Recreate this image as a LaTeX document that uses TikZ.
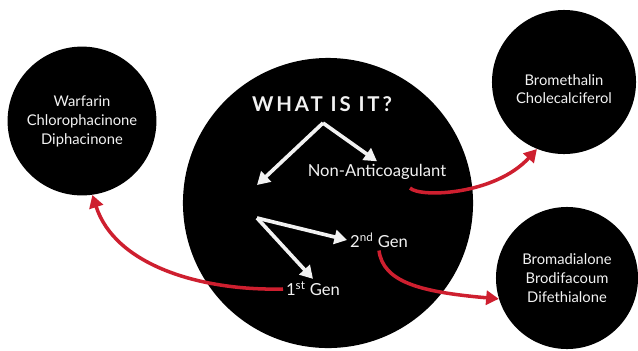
\documentclass[tikz,border=0pt]{standalone}
\usepackage{fontspec}
\setmainfont{Lato}
\newfontfamily\headfont[LetterSpace=14]{Lato}
\usepackage{xcolor}
\definecolor{Ink}{HTML}{000000}
\definecolor{Paper}{HTML}{F2F2F2}
\definecolor{Blood}{HTML}{CE1F2F}
\usepackage{tikz}
\usetikzlibrary{arrows.meta, positioning}
\tikzset{
  blob/.style={
    circle, fill=Ink, minimum size=#1,
    inner sep=0pt
  },
  blob/.default=3.7cm,
  txt/.style={
    text=Paper, align=center, inner sep=2pt,
    font=\fontsize{10.5}{13.5}\selectfont
  },
  wArr/.style={-{Triangle[length=9pt,width=10pt]}, line width=2.6pt, color=Paper},
  rArr/.style={-{Triangle[length=9pt,width=10pt]}, line width=2.5pt, color=Blood},
}

\begin{document}
\begin{tikzpicture}[x=0.025cm, y=-0.025cm]

\useasboundingbox (0,0) rectangle (638,350);

% the four discs
\node[blob=7.25cm] at (328,203) (hub) {};
\node[blob=3.72cm] at (82,121) (warf) {};
\node[blob=3.6cm] at (564,82) (bromet) {};
\node[blob=3.55cm] at (567,278) (brod) {};

% disc contents
\node[txt] at (82,121) (warftxt) {Warfarin\\Chlorophacinone\\Diphacinone};
\node[txt, font=\fontsize{10.5}{12.5}\selectfont] at (564,89) (brometxt) {Bromethalin\\Cholecalciferol};
\node[txt] at (567,278) (brodtxt) {Bromadialone\\Brodifacoum\\Difethialone};

\node[txt, font=\headfont\bfseries\fontsize{14.5}{16}\selectfont] at (322,104) (what) {WHAT IS IT?};
\node[txt, font=\fontsize{11.8}{14}\selectfont] at (377,172) (nonanti) {Non-Anticoagulant};
\node[txt, font=\fontsize{11.8}{14}\selectfont] at (379,240) (gen2) {2\textsuperscript{nd} Gen};
\node[txt, font=\fontsize{11.8}{14}\selectfont] at (313,289) (gen1) {1\textsuperscript{st} Gen};

\coordinate (forkA) at (323,123);
\coordinate (antiTip) at (257,185);
\coordinate (forkB) at (257,218);
\coordinate (naTail) at (410,188);

% white splits
\draw[wArr] (forkA) -- (antiTip);
\draw[wArr] (forkA) -- (nonanti.north);
\draw[wArr] (forkB) -- (gen2.west);
\draw[wArr] (forkB) -- (gen1.north);

% red links
\draw[rArr] (gen1.west) .. controls (200,291) and (115,265) .. (warf.-82);
\draw[rArr] (naTail) .. controls (420,198) and (495,195) .. (bromet.-112);
\draw[rArr] (gen2.south) .. controls (383,282) and (420,292) .. (brod.197);

\end{tikzpicture}
\end{document}
